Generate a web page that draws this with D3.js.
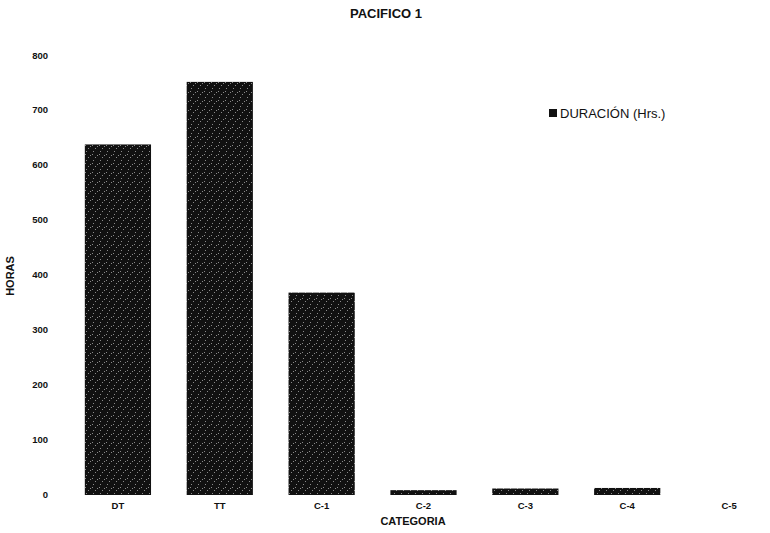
<!DOCTYPE html>
<html>
<head>
<meta charset="utf-8">
<script src="https://cdn.jsdelivr.net/npm/d3@7"></script>
<style>
  body { margin: 0; background: #fff; }
  svg { font-family: "Liberation Sans", Arial, sans-serif; }
</style>
</head>
<body>
<div id="chart"></div>
<script>
const categories = ["DT", "TT", "C-1", "C-2", "C-3", "C-4", "C-5"]
const duracion = [637, 751, 367, 7, 10, 11, 0]
const yTicks = [0, 100, 200, 300, 400, 500, 600, 700, 800]

const width = 770
const height = 533

const svg = d3.select("#chart")
  .append("svg")
  .attr("width", width)
  .attr("height", height)

// speckled dark fill, like the scanned bars
const defs = svg.append("defs")
const pat = defs.append("pattern")
  .attr("id", "speckle")
  .attr("patternUnits", "userSpaceOnUse")
  .attr("width", 7)
  .attr("height", 9)
pat.append("rect").attr("width", 7).attr("height", 9).attr("fill", "#111")
const dots = [[1, 1], [4, 4], [2, 7], [6, 2]]
dots.forEach(([dx, dy]) => {
  pat.append("rect").attr("x", dx).attr("y", dy).attr("width", 1).attr("height", 1).attr("fill", "#8a8a8a")
})

const x = d3.scaleBand()
  .domain(categories)
  .range([67, 780])
  .paddingInner(0.35)
  .paddingOuter(0.175)

const y = d3.scaleLinear()
  .domain([0, 800])
  .range([494, 55])

// bars
svg.append("g")
  .selectAll("rect")
  .data(categories.map((c, i) => ({ c, v: duracion[i] })).filter(d => d.v > 0))
  .join("rect")
  .attr("x", d => x(d.c))
  .attr("y", d => y(d.v))
  .attr("width", x.bandwidth())
  .attr("height", d => y(0) - y(d.v) + 1)
  .attr("fill", "url(#speckle)")

// y axis labels
const yAxis = svg.append("g")
  .attr("transform", "translate(48,0)")
  .call(d3.axisLeft(y).tickValues(yTicks).tickSize(0).tickPadding(0))
yAxis.select(".domain").remove()
yAxis.selectAll("text")
  .attr("font-size", 9.5)
  .attr("font-weight", "bold")
  .attr("fill", "#111")
  .attr("font-family", "Liberation Sans, Arial, sans-serif")

// x axis labels
const xAxis = svg.append("g")
  .attr("transform", "translate(0,500)")
  .call(d3.axisBottom(x).tickSize(0).tickPadding(2))
xAxis.select(".domain").remove()
xAxis.selectAll("text")
  .attr("font-size", 9.5)
  .attr("font-weight", "bold")
  .attr("fill", "#111")
  .attr("font-family", "Liberation Sans, Arial, sans-serif")

// title
svg.append("text")
  .attr("x", 386)
  .attr("y", 18)
  .attr("text-anchor", "middle")
  .attr("font-size", 13)
  .attr("font-weight", "bold")
  .attr("fill", "#111")
  .text("PACIFICO 1")

// axis titles
svg.append("text")
  .attr("transform", "translate(14,276) rotate(-90)")
  .attr("text-anchor", "middle")
  .attr("font-size", 11)
  .attr("font-weight", "bold")
  .attr("fill", "#111")
  .text("HORAS")

svg.append("text")
  .attr("x", 413)
  .attr("y", 525)
  .attr("text-anchor", "middle")
  .attr("font-size", 11)
  .attr("font-weight", "bold")
  .attr("fill", "#111")
  .text("CATEGORIA")

// legend
const legend = svg.append("g").attr("transform", "translate(549,109)")
legend.append("rect")
  .attr("width", 8)
  .attr("height", 8)
  .attr("fill", "#111")
legend.append("text")
  .attr("x", 11)
  .attr("y", 8.5)
  .attr("font-size", 13)
  .attr("fill", "#111")
  .text("DURACIÓN (Hrs.)")
</script>
</body>
</html>
